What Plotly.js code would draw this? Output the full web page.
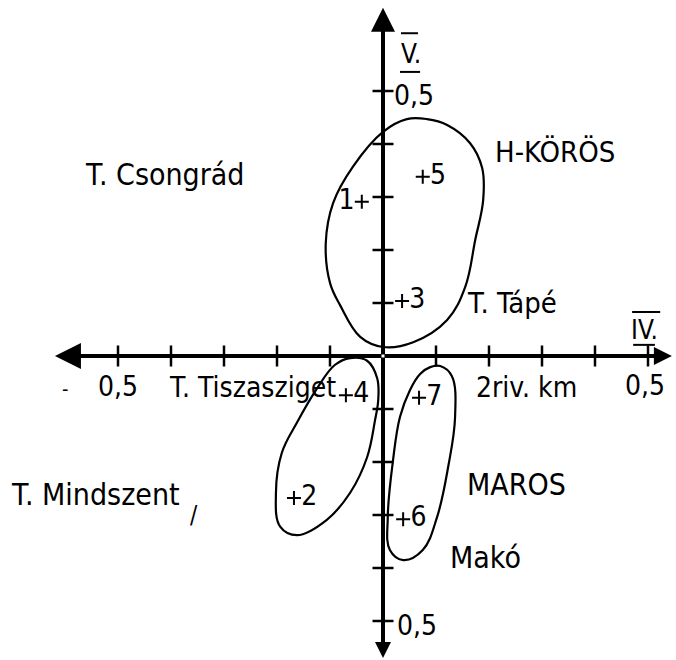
<!DOCTYPE html>
<html>
<head>
<meta charset="utf-8">
<script src="https://cdn.plot.ly/plotly-3.0.1.min.js"></script>
<style>
  html, body { margin: 0; padding: 0; background: #ffffff; }
  #chart { width: 676px; height: 660px; }
</style>
</head>
<body>
<div id="chart"></div>
<script>
// ---- data ----
const pointLabels = ['1', '2', '3', '4', '5', '6', '7'];
const pointX = [-0.040, -0.168, 0.036, -0.070, 0.075, 0.038, 0.068];
const pointY = [0.291, -0.268, 0.104, -0.074, 0.338, -0.308, -0.079];

// H-KÖRÖS group outline
const korosX = [0.045, 0.000, -0.057, -0.094, -0.108, -0.100, -0.081, -0.043, 0.000, 0.057, 0.121, 0.155, 0.174, 0.189, 0.187, 0.164, 0.121, 0.083];
const korosY = [0.447, 0.423, 0.357, 0.289, 0.213, 0.138, 0.096, 0.036, 0.017, 0.026, 0.068, 0.130, 0.219, 0.294, 0.355, 0.402, 0.436, 0.447];

// Tisza (lower-left) group outline
const tiszaX = [-0.062, -0.030, -0.011, -0.009, -0.015, -0.030, -0.062, -0.106, -0.162, -0.194, -0.202, -0.191, -0.162, -0.125, -0.091];
const tiszaY = [-0.004, -0.009, -0.042, -0.083, -0.121, -0.191, -0.258, -0.309, -0.338, -0.322, -0.258, -0.183, -0.125, -0.062, -0.017];

// MAROS group outline
const marosX = [0.108, 0.130, 0.136, 0.123, 0.102, 0.075, 0.038, 0.013, 0.009, 0.019, 0.032, 0.051, 0.070, 0.089];
const marosY = [-0.019, -0.038, -0.115, -0.209, -0.304, -0.366, -0.385, -0.366, -0.304, -0.196, -0.115, -0.064, -0.034, -0.021];

const tickValues = [-0.5, -0.4, -0.3, -0.2, -0.1, 0.1, 0.2, 0.3, 0.4, 0.5];
const tickLabel = '0,5';
const xAxisName = 'IV';
const yAxisName = 'V';
const placeNames = ['T. Csongrád', 'H-KÖRÖS', 'T. Tápé', 'T. Tiszasziget', '2riv. km', 'T. Mindszent', 'MAROS', 'Makó'];

// ---- layout / placement (not data) ----
const FONT = 'DejaVu Sans Condensed, DejaVu Sans, sans-serif';
const placePos = [
  [-0.566, 0.343, 30], [0.2075, 0.385, 29], [0.155, 0.100, 29], [-0.408, -0.060, 28],
  [0.172, -0.060, 28], [-0.706, -0.262, 30], [0.155, -0.2415, 30], [0.123, -0.381, 30]
];
function closed(a) { return a.concat([a[0]]); }

const outline = (xs, ys) => ({
  type: 'scatter', mode: 'lines', x: closed(xs), y: closed(ys),
  line: { color: '#000', width: 2.2, shape: 'spline', smoothing: 1.1 },
  hoverinfo: 'skip', showlegend: false
});

const zeros = tickValues.map(() => 0);
const traces = [
  outline(korosX, korosY),
  outline(tiszaX, tiszaY),
  outline(marosX, marosY),
  { type: 'scatter', mode: 'markers', x: tickValues, y: zeros,
    marker: { symbol: 'line-ns', size: 15, color: '#000', line: { color: '#000', width: 2.5 } },
    hoverinfo: 'skip', showlegend: false },
  { type: 'scatter', mode: 'markers', x: zeros, y: tickValues,
    marker: { symbol: 'line-ew', size: 15, color: '#000', line: { color: '#000', width: 2.5 } },
    hoverinfo: 'skip', showlegend: false },
  { type: 'scatter', mode: 'markers+text', x: pointX, y: pointY, text: pointLabels,
    textposition: ['middle left', 'middle right', 'middle right', 'middle right', 'middle right', 'middle right', 'middle right'],
    textfont: { family: FONT, size: 28, color: '#000' },
    marker: { symbol: 'cross-thin', size: 10, color: '#000', line: { color: '#000', width: 2 } },
    hoverinfo: 'skip', showlegend: false }
];

const annotations = [];
// axes with arrow heads
function axisArrow(x, y, size) {
  annotations.push({ x: x, y: y, ax: 0, ay: 0, xref: 'x', yref: 'y', axref: 'x', ayref: 'y',
    text: '', showarrow: true, arrowhead: 2, arrowsize: size, arrowwidth: 4, arrowcolor: '#000', standoff: 0 });
}
axisArrow(-0.619, 0, 1.3);
axisArrow(0.545, 0, 0.9);
axisArrow(0, 0.657, 1.2);
axisArrow(0, -0.570, 0.8);

placeNames.forEach((t, i) => {
  annotations.push({ x: placePos[i][0], y: placePos[i][1], xref: 'x', yref: 'y', text: t, showarrow: false,
    xanchor: 'left', yanchor: 'middle', font: { family: FONT, size: placePos[i][2], color: '#000' } });
});
annotations.push({ x: -0.357, y: -0.300, xref: 'x', yref: 'y', text: '/', showarrow: false,
  xanchor: 'center', yanchor: 'middle', font: { family: FONT, size: 24, color: '#000' } });
annotations.push({ x: -0.6, y: -0.062, xref: 'x', yref: 'y', text: '-', showarrow: false,
  xanchor: 'center', yanchor: 'middle', font: { family: FONT, size: 20, color: '#000' } });

// end-of-axis tick labels
[[0.058, 0.491], [0.064, -0.509], [-0.5, -0.058], [0.494, -0.055]].forEach(p => {
  annotations.push({ x: p[0], y: p[1], xref: 'x', yref: 'y', text: tickLabel, showarrow: false,
    xanchor: 'center', yanchor: 'middle', font: { family: FONT, size: 28, color: '#000' } });
});
// axis names
annotations.push({ x: 0.053, y: 0.570, xref: 'x', yref: 'y', text: yAxisName + '.', showarrow: false,
  xanchor: 'center', yanchor: 'middle', font: { family: FONT, size: 26, color: '#000' } });
annotations.push({ x: 0.494, y: 0.049, xref: 'x', yref: 'y', text: xAxisName + '.', showarrow: false,
  xanchor: 'center', yanchor: 'middle', font: { family: FONT, size: 26, color: '#000' } });

const bar = (x0, x1, y) => ({ type: 'line', xref: 'x', yref: 'y', x0: x0, x1: x1, y0: y, y1: y,
  line: { color: '#000', width: 2 } });
const shapes = [
  bar(0.034, 0.066, 0.609), bar(0.032, 0.070, 0.536),
  bar(0.470, 0.523, 0.083), bar(0.472, 0.513, 0.021)
];

const layout = {
  width: 676, height: 660,
  margin: { l: 0, r: 0, t: 0, b: 0 },
  paper_bgcolor: '#fff', plot_bgcolor: '#fff',
  xaxis: { range: [-0.72264, 0.55283], visible: false, fixedrange: true },
  yaxis: { range: [-0.57358, 0.67170], visible: false, fixedrange: true },
  showlegend: false,
  annotations: annotations,
  shapes: shapes
};

Plotly.newPlot('chart', traces, layout, { staticPlot: true, displayModeBar: false });
</script>
</body>
</html>
